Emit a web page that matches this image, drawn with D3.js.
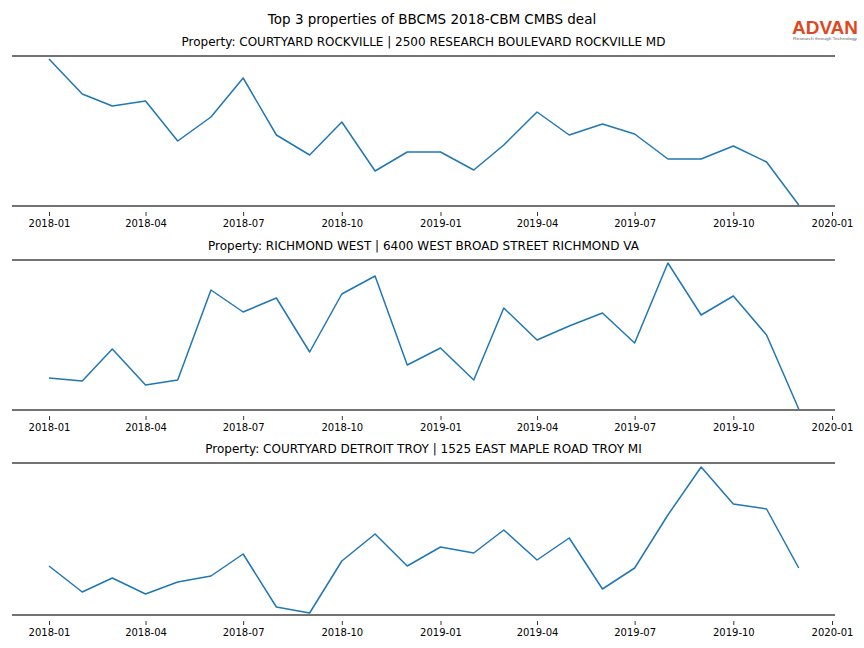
<!DOCTYPE html>
<html><head><meta charset="utf-8">
<script src="https://cdn.jsdelivr.net/npm/d3@7"></script>
<style>body{margin:0;background:#fff}svg{font-family:"DejaVu Sans",sans-serif}</style>
</head><body><svg id="c" width="864" height="648"></svg>
<script>
const months = ["2018-01","2018-02","2018-03","2018-04","2018-05","2018-06","2018-07","2018-08","2018-09","2018-10","2018-11","2018-12",
"2019-01","2019-02","2019-03","2019-04","2019-05","2019-06","2019-07","2019-08","2019-09","2019-10","2019-11","2019-12"];
const tickLabels = ["2018-01","2018-04","2018-07","2018-10","2019-01","2019-04","2019-07","2019-10","2020-01"];
const titles = ["Property: COURTYARD ROCKVILLE | 2500 RESEARCH BOULEVARD ROCKVILLE MD",
"Property: RICHMOND WEST | 6400 WEST BROAD STREET RICHMOND VA",
"Property: COURTYARD DETROIT TROY | 1525 EAST MAPLE ROAD TROY MI"];
const rockville = [147,112,100,105,65,89,128,71,51,84,35,54,54,36,61,94,71,82,72,47,47,60,44,1];
const richmond = [32,29,61,25,30,120,98,112,58,116,134,45,62,30,102,70,84,97,67,147,95,114,75,1];
const detroit = [49,23,37,21,33,39,61,8,2,54,81,49,68,62,85,55,77,26,47,100,148,111,106,47];
const series = [rockville, richmond, detroit];

const svg = d3.select("#c");
const parse = d3.timeParse("%Y-%m");
const x = d3.scaleTime().domain([parse("2018-01"), parse("2020-01")]).range([49, 832]);
const left = 12, right = 835;
const panels = [{top:56,bottom:206},{top:260,bottom:410},{top:463,bottom:615}];

svg.append("text").attr("x",432).attr("y",24).attr("text-anchor","middle")
  .attr("font-size",13.5).text("Top 3 properties of BBCMS 2018-CBM CMBS deal");

// logo
svg.append("text").attr("x",792).attr("y",34)
  .attr("font-family","Liberation Sans, Arial, sans-serif").attr("font-size",17.5).attr("font-weight",600)
  .attr("fill","#e0471d").attr("textLength",66).attr("lengthAdjust","spacingAndGlyphs").text("ADVAN");
svg.append("text").attr("x",825).attr("y",40).attr("text-anchor","middle")
  .attr("font-family","Liberation Sans, Arial, sans-serif").attr("font-size",3.8)
  .attr("fill","#666").attr("textLength",64).attr("lengthAdjust","spacingAndGlyphs").text("Research through Technology");

panels.forEach((p,i)=>{
  const y = d3.scaleLinear().domain([0,150]).range([p.bottom,p.bottom-150]);
  const g = svg.append("g");
  g.append("text").attr("x",(left+right)/2).attr("y",p.top-10).attr("text-anchor","middle")
    .attr("font-size",12).text(titles[i]);
  const line = d3.line().x((d,j)=>x(parse(months[j]))).y(d=>y(d));
  g.append("path").datum(series[i]).attr("d",line).attr("fill","none")
    .attr("stroke","#1f77b4").attr("stroke-width",1.5).attr("stroke-linejoin","round");
  g.append("line").attr("x1",left).attr("x2",right).attr("y1",p.top).attr("y2",p.top)
    .attr("stroke","#444").attr("stroke-width",1.6);
  g.append("line").attr("x1",left).attr("x2",right).attr("y1",p.bottom).attr("y2",p.bottom)
    .attr("stroke","#444").attr("stroke-width",1.6);
  const ax = d3.axisBottom(x).tickValues(tickLabels.map(parse)).tickFormat(d3.timeFormat("%Y-%m"))
    .tickSize(4).tickPadding(4);
  const ag = g.append("g").attr("transform",`translate(0,${p.bottom+6})`).call(ax);
  ag.select(".domain").remove();
  ag.selectAll(".tick line").attr("stroke","#000").attr("stroke-width",0.8);
  ag.selectAll("text").attr("font-size",10).attr("font-family","DejaVu Sans, sans-serif").attr("fill","#000");
});
</script></body></html>
